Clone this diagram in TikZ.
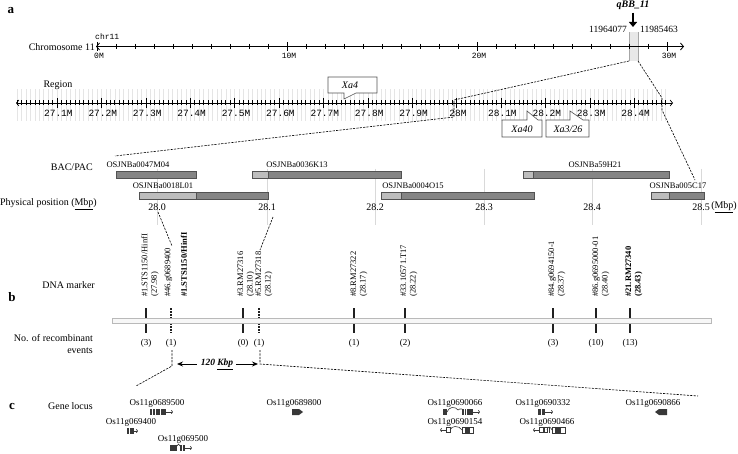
\documentclass[tikz,border=0pt]{standalone}
\usepackage{fontspec}
\setmainfont{Liberation Serif}
\setmonofont{Liberation Mono}
\usepackage{xcolor}
\usepackage{tikz}
\usetikzlibrary{positioning, arrows.meta, calc}

\definecolor{bardark}{gray}{0.52}
\definecolor{barlight}{gray}{0.74}
\definecolor{barline}{gray}{0.32}
\definecolor{gridgray}{gray}{0.9}
\definecolor{genegray}{gray}{0.22}

\begin{document}
\begin{tikzpicture}[x=1pt, y=-1pt,
        every node/.style={inner sep=0pt},
        panel/.style={font=\fontsize{13}{13}\selectfont\bfseries},
        rowlbl/.style={anchor=east, align=right, font=\fontsize{10}{12}\selectfont},
        axlbl/.style={font=\ttfamily\fontsize{8}{8}\selectfont},
        reglbl/.style={font=\ttfamily\fontsize{9.5}{9.5}\selectfont},
        baclbl/.style={font=\fontsize{8.5}{9}\selectfont},
        poslbl/.style={font=\fontsize{10}{11}\selectfont},
        mklbl/.style={rotate=90, anchor=west, align=left, font=\fontsize{8.5}{9.5}\selectfont},
        cntlbl/.style={font=\fontsize{9}{9}\selectfont},
        genelbl/.style={font=\fontsize{9}{9}\selectfont},
        xalbl/.style={font=\fontsize{10}{10}\selectfont\itshape},
        callbox/.style={draw=gray!65!black, line width=0.6pt, fill=white},
        zoomline/.style={dash pattern=on 2.2pt off 1.2pt, line width=0.6pt},
        bacdark/.style={fill=bardark, draw=barline, line width=0.6pt},
        baclight/.style={fill=barlight, draw=barline, line width=0.6pt},
        mktick/.style={draw=gray!25!black, line width=1.2pt},
        exon/.style={fill=genegray},
        gline/.style={draw=genegray, line width=0.6pt},
        garrow/.style={draw=genegray, line width=0.6pt, -{To[length=2pt,width=4pt]}}]
        \useasboundingbox (0,0) rectangle (738,454);

        \node[panel] (pa) at (11,11) {a};
        \node[panel] (pb) at (12,297) {b};
        \node[panel] (pc) at (12,406) {c};

        \node[rowlbl] (chrlbl) at (95,47) {Chromosome 11};
        \node[axlbl, anchor=west] (chrname) at (95,37) {chr11};
        \fill[gray!18] (629,32) rectangle (638,61);
        \draw[gray!70] (629,32) -- (629,61);
        \draw[gray!70] (638,32) -- (638,61);
        \draw[line width=0.8pt, {Straight Barb[length=3pt,width=7pt]}-{Straight Barb[length=3pt,width=7pt]}] (96,46.5) -- (684,46.5);
        \foreach \k in {1,...,30}
          \draw[line width=0.6pt] (97+19*\k,44) -- (97+19*\k,49);
        \foreach \k/\t in {0/0M,10/10M,20/20M,30/30M} {
          \draw[line width=0.6pt] (97+19*\k,42) -- (97+19*\k,51);
          \node[axlbl] (c\k) at (99+19*\k,56) {\t};
        }
        \node[font=\fontsize{10}{10}\selectfont\bfseries\itshape] (qbb) at (633,5) {qBB\_11};
        \coordinate (qtip) at (633,27);
        \draw[line width=2.6pt, -{Triangle[width=8pt,length=5pt]}, shorten <=3pt] (qbb.south) -- (qtip);
        \node[font=\fontsize{9.5}{9.5}\selectfont, anchor=east] (startpos) at (627,29) {11964077};
        \node[font=\fontsize{9.5}{9.5}\selectfont, anchor=west] (endpos) at (640,29) {11985463};

        \node[font=\fontsize{10}{10}\selectfont] (reglbl) at (58,85) {Region};
        \foreach \i in {1,...,147}
          \draw[gridgray, line width=0.4pt] (12.6+4.44*\i,89) -- (12.6+4.44*\i,121);
        \draw[line width=0.7pt, {Straight Barb[length=2.5pt,width=6pt]}-{Straight Barb[length=2.5pt,width=6pt]}] (16,103) -- (673,103);
        \foreach \i in {1,...,147}
          \draw[line width=0.5pt] (12.6+4.44*\i,100.5) -- (12.6+4.44*\i,105.5);
        \foreach \i/\t in {10/27.1M,20/27.2M,30/27.3M,40/27.4M,50/27.5M,60/27.6M,70/27.7M,
                           80/27.8M,90/27.9M,100/28M,110/28.1M,120/28.2M,130/28.3M,140/28.4M} {
          \draw[line width=0.6pt] (12.6+4.44*\i,98) -- (12.6+4.44*\i,108);
          \node[reglbl] (r\i) at (14+4.44*\i,113) {\t};
        }

        \draw[callbox] (328,77) -- (377,77) -- (377,93) -- (356,93) -- (344,99) -- (344,93) -- (328,93) -- cycle;
        \node[xalbl] (xa4) at (350,85) {Xa4};
        \draw[callbox] (502,120) -- (527,120) -- (527,111) -- (538,120) -- (542,120) -- (542,137) -- (502,137) -- cycle;
        \node[xalbl] (xa40) at (522,129) {Xa40};
        \draw[callbox] (546,120) -- (570,120) -- (570,111) -- (583,120) -- (589,120) -- (589,137) -- (546,137) -- cycle;
        \node[xalbl] (xa326) at (568,129) {Xa3/26};

        \coordinate (hlL) at (629,61);
        \coordinate (hlR) at (638,61);
        \coordinate (rgL) at (454,100);
        \coordinate (rgLb) at (454,117);
        \coordinate (rgR) at (662,98);
        \coordinate (rgRb) at (662,110);
        \coordinate (bcL) at (115,156);
        \coordinate (bcR) at (695,180);
        \draw[zoomline] (hlL) -- (rgL) -- (rgLb) -- (bcL);
        \draw[zoomline] (hlR) -- (rgR) -- (rgRb) -- (bcR);

        \node[rowlbl] (baclbl) at (93,167) {BAC/PAC};
        \node[rowlbl] (poslbl) at (97,204) {Physical position (\underline{Mbp})};
        \foreach \x/\t in {157/28.0,267/28.1,375/28.2,484/28.3,592/28.4,701/28.5} {
          \draw[gray!30, line width=0.8pt] (\x,169) -- (\x,225);
          \node[poslbl] (pp\x) at (\x,207) {\t};
        }
        \node[poslbl, anchor=east] (mbp) at (737,207) {(\underline{Mbp})};

        \draw[bacdark] (116,171) rectangle (196,178);
        \node[baclbl] (b1) at (138,165) {OSJNBa0047M04};
        \draw[bacdark] (252,171) rectangle (401,178);
        \draw[baclight] (252,171) rectangle (268,178);
        \node[baclbl] (b2) at (297,165) {OSJNBa0036K13};
        \draw[bacdark] (139,192) rectangle (268,199);
        \draw[baclight] (139,192) rectangle (196,199);
        \node[baclbl] (b3) at (163,186) {OSJNBa0018L01};
        \draw[bacdark] (381,192) rectangle (534,199);
        \draw[baclight] (381,192) rectangle (401,199);
        \node[baclbl] (b4) at (413,186) {OSJNBa0004O15};
        \draw[bacdark] (523,171) rectangle (669,178);
        \draw[baclight] (523,171) rectangle (533,178);
        \node[baclbl] (b5) at (595,165) {OSJNBa59H21};
        \draw[bacdark] (651,192) rectangle (704,199);
        \draw[baclight] (651,192) rectangle (669,199);
        \node[baclbl] (b6) at (678,186) {OSJNBa005C17};

        \coordinate (p0) at (158,212);
        \coordinate (mk46) at (172,246);
        \coordinate (p1) at (273,217);
        \coordinate (mk5) at (260,250);
        \draw[zoomline] (p0) -- (mk46);
        \draw[zoomline] (p1) -- (mk5);

        \node[rowlbl] (dnalbl) at (95,285) {DNA marker};
        \node[mklbl] (ml1) at (150,297) {\#1.STS1150/HinfI\\(27.98)};
        \node[mklbl] (ml2) at (168.5,297) {\#46.g0689400};
        \node[mklbl, font=\fontsize{8.5}{9.5}\selectfont\bfseries] (ml3) at (184,297) {\#1.STS1150/HinfI};
        \node[mklbl] (ml4) at (246,297) {\#3.RM27316\\(28.10)};
        \node[mklbl] (ml5) at (264,297) {\#5.RM27318\\(28.12)};
        \node[mklbl] (ml6) at (359,297) {\#8.RM27322\\(28.17)};
        \node[mklbl] (ml7) at (409,297) {\#33.10571.T17\\(28.22)};
        \node[mklbl] (ml8) at (557,297) {\#84.g0694150-1\\(28.37)};
        \node[mklbl] (ml9) at (601,297) {\#86.g0695000-01\\(28.40)};
        \node[mklbl, font=\fontsize{8.5}{9.5}\selectfont\bfseries] (ml10) at (634,297) {\#21.RM27340\\(28.43)};

        \foreach \x in {146,243,354,405,553,596,630}
          \draw[mktick] (\x,308) -- (\x,333);
        \foreach \x in {171,259}
          \draw[mktick, dash pattern=on 2pt off 1pt] (\x,308) -- (\x,333);
        \draw[fill=gray!6, draw=gray!55, line width=1pt] (112,318) rectangle (711,323);

        \node[rowlbl] (reclbl) at (93,344) {No. of recombinant\\events};
        \foreach \x/\n in {146/3,171/1,243/0,259/1,354/1,405/2,553/3,596/10,630/13}
          \node[cntlbl] (n\x) at (\x,343) {(\n)};

        \coordinate (lk1) at (172,350);
        \coordinate (lk1b) at (172,366);
        \coordinate (gnL) at (136,386);
        \coordinate (lk2) at (260,350);
        \coordinate (lk2b) at (260,364);
        \coordinate (gnR) at (698,396);
        \draw[zoomline] (lk1) -- (lk1b) -- (gnL);
        \draw[zoomline] (lk2) -- (lk2b) -- (gnR);
        \node[font=\fontsize{9.5}{9.5}\selectfont\bfseries\itshape] (kbp) at (217,364) {120 \underline{Kbp}};
        \coordinate (kbpL) at (177,364);
        \coordinate (kbpR) at (258,364);
        \draw[line width=0.9pt, -{Stealth[length=6pt,width=5pt]}, shorten <=4pt] (kbp.west) -- (kbpL);
        \draw[line width=0.9pt, -{Stealth[length=6pt,width=5pt]}, shorten <=3pt] (kbp.east) -- (kbpR);

        \node[rowlbl] (genelbl) at (93,406) {Gene locus};
        \node[genelbl] (g1) at (157,403) {Os11g0689500};
        \node[genelbl] (g2) at (131,422) {Os11g069400};
        \node[genelbl] (g3) at (183,439) {Os11g069500};
        \node[genelbl] (g4) at (294,403) {Os11g0689800};
        \node[genelbl] (g5) at (455,403) {Os11g0690066};
        \node[genelbl] (g6) at (455,422) {Os11g0690154};
        \node[genelbl] (g7) at (543,403) {Os11g0690332};
        \node[genelbl] (g8) at (547,422) {Os11g0690466};
        \node[genelbl] (g9) at (653,403) {Os11g0690866};

        \fill[exon] (150,409) rectangle (166,415);
        \foreach \x in {152.5,155.5,160.5}
          \draw[white, line width=0.6pt] (\x,409) -- (\x,415);
        \draw[garrow] (166,412) -- (173,412);

        \fill[exon] (127,428) rectangle (129,434);
        \fill[exon] (130,428) rectangle (134,434);
        \draw[garrow] (134,431) -- (138,431);

        \fill[exon] (170,445) rectangle (177,451);
        \draw[gline] (177,446) -- (178.5,444) -- (180,446);
        \fill[exon] (180,445) rectangle (181.5,451);
        \fill[exon] (182.5,445) rectangle (185,451);
        \draw[garrow] (185,448) -- (192,448);

        \fill[exon] (292,409) -- (299,409) -- (303,412) -- (299,415) -- (292,415) -- cycle;

        \fill[exon] (443,409) rectangle (447,415);
        \draw[gline] (447,412) to[out=60,in=180] (452,407.5) to[out=0,in=120] (458,410) to[out=60,in=180] (462,409);
        \fill[exon] (462,409) rectangle (473,415);
        \foreach \x in {464.5,466.5}
          \draw[white, line width=0.5pt] (\x,409) -- (\x,415);
        \draw[garrow] (473,412) -- (480,412);

        \draw[garrow] (446,430) -- (440,430);
        \draw[gline, fill=white] (446,427.5) rectangle (450,432.5);
        \draw[gline] (450,430) to[out=60,in=180] (455,426.5) to[out=0,in=120] (462,430);
        \draw[gline, fill=white] (462,427) rectangle (473,433);
        \fill[exon] (465,427) rectangle (470,433);

        \fill[exon] (538,409) rectangle (541,415);
        \fill[exon] (542,409) rectangle (545,415);
        \draw[garrow] (545,412) -- (553,412);

        \draw[garrow] (539,430) -- (533,430);
        \draw[gline, fill=white] (539,427.5) rectangle (543,432.5);
        \draw[gline, fill=white] (544,427.5) rectangle (547,432.5);
        \draw[gline] (547,430) to[out=60,in=180] (549,427) to[out=0,in=120] (552,430);
        \draw[gline] (549,427) -- (549,433);
        \draw[gline, fill=white] (552,427) rectangle (565,433);
        \fill[exon] (555,427) rectangle (561,433);

        \fill[exon] (655,412) -- (659,409) -- (667,409) -- (667,415) -- (659,415) -- cycle;
      \end{tikzpicture}
\end{document}
